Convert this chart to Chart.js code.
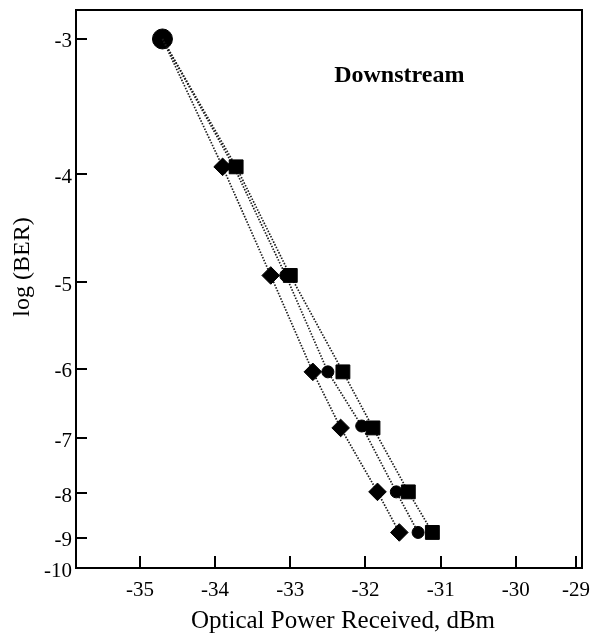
<!DOCTYPE html>
<html>
<head>
<meta charset="utf-8">
<script src="https://cdn.jsdelivr.net/npm/chart.js@4.4.1/dist/chart.umd.min.js"></script>
<style>
  body { margin: 0; background: #fff; }
  #wrap { width: 591px; height: 637px; }
</style>
</head>
<body>
<div id="wrap"><canvas id="berChart"></canvas></div>
<script>
// BER curves, downstream
const circleX  = [-34.70, -33.75, -33.06, -32.50, -32.05, -31.59, -31.30];
const circleY  = [-3, -3.94, -4.93, -6.04, -6.81, -7.97, -8.87];
const squareX  = [-34.70, -33.72, -33.00, -32.30, -31.90, -31.43, -31.11];
const squareY  = [-3, -3.94, -4.93, -6.04, -6.84, -7.97, -8.87];
const diamondX = [-34.70, -33.90, -33.26, -32.70, -32.33, -31.84, -31.55];
const diamondY = [-3, -3.94, -4.93, -6.04, -6.84, -7.97, -8.87];

const xTicks = [-35, -34, -33, -32, -31, -30, -29];
const yTicks = [-3, -4, -5, -6, -7, -8, -9, -10];
const xTitle = 'Optical Power Received, dBm';
const yTitle = 'log (BER)';
const noteText = 'Downstream';

const FONT = '"Liberation Serif", "Times New Roman", serif';
const WARP_BASE = 0.8;

// y axis of the original is squeezed towards the bottom,
// approximated with t = base^(-v)
class WarpScale extends Chart.LinearScale {
    tval(v) { return Math.pow(WARP_BASE, -v); }
    getPixelForValue(value) {
        const t0 = this.tval(this.min), t1 = this.tval(this.max);
        return this.getPixelForDecimal((this.tval(value) - t0) / (t1 - t0));
    }
    getValueForPixel(pixel) {
        const t0 = this.tval(this.min), t1 = this.tval(this.max);
        const t = t0 + this.getDecimalForPixel(pixel) * (t1 - t0);
        return -Math.log(t) / Math.log(WARP_BASE);
    }
}
WarpScale.id = 'warp';
WarpScale.defaults = Chart.LinearScale.defaults;
Chart.register(WarpScale);

function toPoints(xs, ys) {
    return xs.map((x, i) => ({x: x, y: ys[i]}));
}

function series(label, xs, ys, style, size, firstSize) {
    return {
        label: label,
        data: toPoints(xs, ys),
        showLine: true,
        borderColor: '#1a1a1a',
        borderWidth: 1.7,
        borderDash: [1.5, 1.5],
        pointStyle: style,
        pointRadius: ctx => ctx.dataIndex === 0 ? firstSize : size,
        pointBackgroundColor: '#000',
        pointBorderColor: '#000',
        pointBorderWidth: 1
    };
}

// frame + free text
const textPlugin = {
    id: 'textPlugin',
    afterDraw(chart) {
        const ctx = chart.ctx;
        const a = chart.chartArea;
        const xs = chart.scales.x, ys = chart.scales.y;
        ctx.save();
        ctx.strokeStyle = '#000';
        ctx.lineWidth = 2;
        ctx.strokeRect(a.left, a.top, a.right - a.left, a.bottom - a.top);

        ctx.fillStyle = '#000';
        ctx.textAlign = 'center';
        ctx.textBaseline = 'middle';
        ctx.font = 'bold 24px ' + FONT;
        ctx.fillText(noteText, xs.getPixelForValue(-31.55), ys.getPixelForValue(-3.25));

        ctx.font = '25px ' + FONT;
        ctx.fillText(xTitle, 343, 621);

        ctx.translate(22.5, 267);
        ctx.rotate(-Math.PI / 2);
        ctx.font = '24px ' + FONT;
        ctx.fillText(yTitle, 0, 0);
        ctx.restore();
    }
};

let ctx = document.getElementById('berChart').getContext('2d');
let myChart = new Chart(ctx, {
    type: 'scatter',
    data: {
        datasets: [
            series('square', squareX, squareY, 'rect', 9.8, 0),
            series('diamond', diamondX, diamondY, 'rectRot', 8.8, 0),
            series('circle', circleX, circleY, 'circle', 6, 10)
        ]
    },
    options: {
        responsive: true,
        maintainAspectRatio: false,
        animation: false,
        events: [],
        layout: { autoPadding: false, padding: { top: 10, right: 9, left: 0, bottom: 0 } },
        plugins: {
            legend: { display: false },
            tooltip: { enabled: false }
        },
        scales: {
            x: {
                type: 'linear',
                min: -35.85,
                max: -29.12,
                bounds: 'data',
                afterFit: s => {
                    s.height = 69;
                    s.paddingLeft = 0;
                    s.paddingRight = 0;
                },
                // the -29 tick sits just inside the frame, as in the original
                afterBuildTicks: s => {
                    s.ticks = xTicks.map(v => ({value: Math.min(v, s.max - 0.08)}));
                },
                border: { color: '#000', width: 2 },
                grid: { drawOnChartArea: false, color: '#000', lineWidth: 2, tickLength: -12 },
                ticks: {
                    autoSkip: false,
                    maxRotation: 0,
                    padding: 22,
                    color: '#000',
                    font: { family: FONT, size: 21 },
                    callback: (v, i) => String(xTicks[i])
                }
            },
            y: {
                type: 'warp',
                min: -9.842,
                max: -2.812,
                bounds: 'data',
                afterFit: s => {
                    s.width = 76;
                    s.paddingTop = 0;
                    s.paddingBottom = 0;
                },
                afterBuildTicks: s => {
                    s.ticks = yTicks.map(v => ({value: Math.max(v, s.min)}));
                },
                border: { color: '#000', width: 2 },
                grid: { drawOnChartArea: false, color: '#000', lineWidth: 2, tickLength: -11 },
                ticks: {
                    autoSkip: false,
                    padding: 15,
                    labelOffset: 3,
                    color: '#000',
                    font: { family: FONT, size: 21 },
                    callback: (v, i) => String(yTicks[i])
                }
            }
        }
    },
    plugins: [textPlugin]
});
</script>
</body>
</html>
